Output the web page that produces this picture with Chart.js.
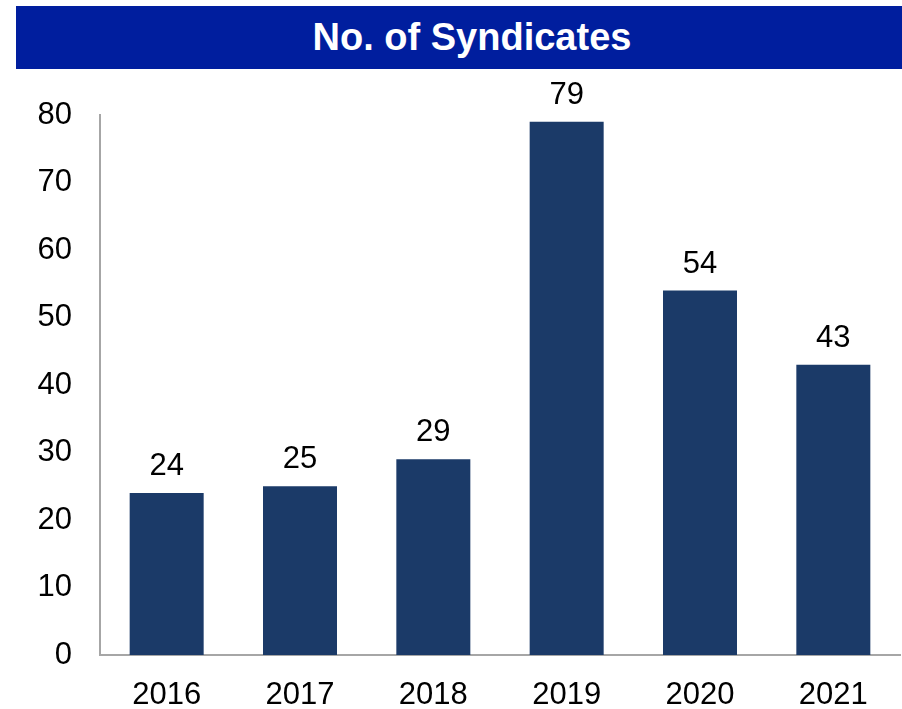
<!DOCTYPE html>
<html>
<head>
<meta charset="utf-8">
<script src="https://cdn.jsdelivr.net/npm/chart.js@4/dist/chart.umd.min.js"></script>
<style>
  html, body { margin: 0; padding: 0; background: #fff; }
  #wrap { position: relative; width: 902px; height: 709px; overflow: hidden; }
  #banner {
    position: absolute; left: 16px; top: 6px; width: 860px; height: 63px;
    padding-left: 26px;
    background: #001e9e; color: #fff;
    font: bold 38px "Liberation Sans", Arial, sans-serif;
    line-height: 63px; text-align: center;
  }
  #chart { position: absolute; left: 0; top: 0; }
</style>
</head>
<body>
<div id="wrap">
  <canvas id="chart" width="902" height="709"></canvas>
  <div id="banner">No. of Syndicates</div>
</div>
<script>
const years = ["2016", "2017", "2018", "2019", "2020", "2021"];
const syndicates = [24, 25, 29, 79, 54, 43];
const yTicks = [0, 10, 20, 30, 40, 50, 60, 70, 80];

const FONT = "'Liberation Sans', Arial, sans-serif";
const AXIS_GREY = "#a6a6a6";

// value labels above each bar
const barValues = {
    id: "barValues",
    afterDatasetsDraw(chart) {
        const ctx = chart.ctx;
        const meta = chart.getDatasetMeta(0);
        ctx.save();
        ctx.font = "31px " + FONT;
        ctx.fillStyle = "#000";
        ctx.textAlign = "center";
        ctx.textBaseline = "alphabetic";
        meta.data.forEach((bar, i) => {
            ctx.fillText(String(syndicates[i]), bar.x, bar.y - 18);
        });
        ctx.restore();
    }
};

new Chart(document.getElementById("chart").getContext("2d"), {
    type: "bar",
    data: {
        labels: years,
        datasets: [{
            label: "No. of Syndicates",
            data: syndicates,
            backgroundColor: "#1b3a68",
            categoryPercentage: 1,
            barPercentage: 0.555
        }]
    },
    options: {
        responsive: false,
        animation: false,
        layout: { padding: { top: 115, right: 2, left: 0, bottom: 0 } },
        plugins: { legend: { display: false }, tooltip: { enabled: false } },
        scales: {
            x: {
                grid: { display: false, drawTicks: false },
                border: { display: true, color: AXIS_GREY, width: 2 },
                ticks: { color: "#000", font: { family: FONT, size: 31 }, padding: 22, maxRotation: 0 },
                afterFit(scale) { scale.height = 54; }
            },
            y: {
                min: 0,
                max: 80,
                afterBuildTicks(scale) { scale.ticks = yTicks.map(v => ({ value: v })); },
                grid: { display: false, drawTicks: false },
                border: { display: true, color: AXIS_GREY, width: 2 },
                ticks: { color: "#000", font: { family: FONT, size: 31 }, padding: 28 },
                afterFit(scale) { scale.width = 100; }
            }
        }
    },
    plugins: [barValues]
});
</script>
</body>
</html>
